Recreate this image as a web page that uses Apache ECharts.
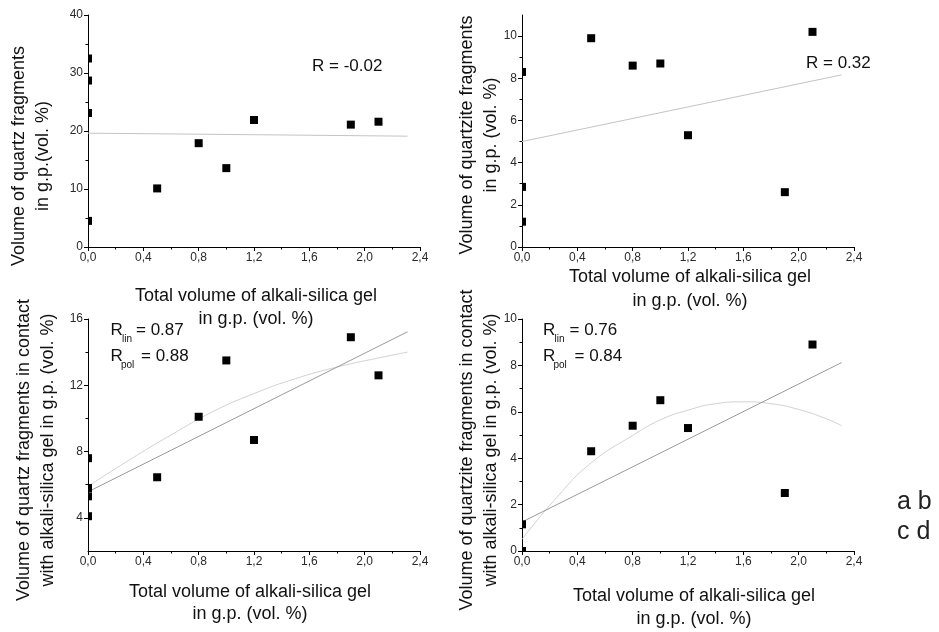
<!DOCTYPE html>
<html>
<head>
<meta charset="utf-8">
<script src="https://cdn.jsdelivr.net/npm/echarts@6/dist/echarts.min.js"></script>
<style>
  html, body { margin: 0; padding: 0; background: #fff; }
  #chart { width: 939px; height: 632px; }
</style>
</head>
<body>
<div id="chart"></div>
<script>
// Fragment content in the g.p. versus total alkali-silica gel volume, panels a-d.

// ---- data ----
// (a) quartz fragments
const gelA = [0, 0, 0, 0, 0.5, 0.8, 1.0, 1.2, 1.9, 2.1];
const quartzA = [32.5, 28.7, 23.1, 4.5, 10.1, 17.9, 13.6, 21.9, 21.1, 21.6];
const fitAx = [0, 2.31];
const fitAy = [19.63, 19.11];

// (b) quartzite fragments
const gelB = [0, 0, 0, 0.5, 0.8, 1.0, 1.2, 1.9, 2.1];
const quartziteB = [8.3, 2.85, 1.2, 9.9, 8.6, 8.7, 5.3, 2.6, 10.2];
const fitBx = [0, 2.31];
const fitBy = [5.0, 8.16];

// (c) quartz fragments in contact with gel
const gelC = [0, 0, 0, 0, 0.5, 0.8, 1.0, 1.2, 1.9, 2.1];
const quartzContactC = [7.6, 5.8, 5.3, 4.1, 6.45, 10.1, 13.5, 8.7, 14.9, 12.6];
const linCx = [0, 2.31];
const linCy = [5.57, 15.23];
const polCx = [0, 0.3, 0.6, 0.9, 1.2, 1.5, 1.8, 2.1, 2.31];
const polCy = [5.9, 7.5, 9.0, 10.4, 11.5, 12.4, 13.1, 13.65, 14.0];

// (d) quartzite fragments in contact with gel
const gelD = [0, 0, 0.5, 0.8, 1.0, 1.2, 1.9, 2.1];
const quartziteContactD = [1.15, 0, 4.3, 5.4, 6.5, 5.3, 2.5, 8.9];
const linDx = [0, 2.31];
const linDy = [1.25, 8.12];
const polDx = [0, 0.25, 0.5, 0.8, 1.0, 1.2, 1.4, 1.6, 1.8, 2.0, 2.2, 2.31];
const polDy = [0.5, 2.3, 3.8, 4.98, 5.65, 6.07, 6.35, 6.43, 6.35, 6.1, 5.7, 5.4];

// ---- axis ticks ----
const xTicks = [0, 0.4, 0.8, 1.2, 1.6, 2.0, 2.4];
const yTicksA = [0, 10, 20, 30, 40];
const yMinorA = [5, 15, 25, 35];
const yTicksB = [0, 2, 4, 6, 8, 10];
const yMinorB = [1, 3, 5, 7, 9];
const yTicksC = [4, 8, 12, 16];
const yMinorC = [6, 10, 14];
const yTicksD = [0, 2, 4, 6, 8, 10];
const yMinorD = [1, 3, 5, 7, 9];

// ---- styling ----
const FONT = '"Liberation Sans", Arial, Helvetica, sans-serif';
const INK = '#111';
const MARK = 8;
const FIT_LIGHT = '#c4c4c4';
const FIT_DARK = '#9a9a9a';

const zip = (xs, ys) => xs.map((x, i) => [x, ys[i]]);

const panels = [
  { left: 88,  top: 15,  yMin: 0, yMax: 40, yTicks: yTicksA, yMinor: yMinorA },
  { left: 522, top: 15,  yMin: 0, yMax: 11, yTicks: yTicksB, yMinor: yMinorB },
  { left: 88,  top: 319, yMin: 2, yMax: 16, yTicks: yTicksC, yMinor: yMinorC },
  { left: 522, top: 319, yMin: 0, yMax: 10, yTicks: yTicksD, yMinor: yMinorD }
];

const grid = panels.map(p => ({ left: p.left, top: p.top, width: 332, height: 232, containLabel: false }));

const xAxis = panels.map((p, i) => ({
  type: 'value', gridIndex: i, min: xTicks[0], max: xTicks[xTicks.length - 1], interval: 0.4,
  axisLine: { show: true, onZero: false, lineStyle: { color: '#000', width: 1 } },
  axisTick: { show: true, inside: false, length: 4, lineStyle: { color: '#000' } },
  minorTick: { show: true, splitNumber: 2, length: 2.5, lineStyle: { color: '#000' } },
  splitLine: { show: false }, minorSplitLine: { show: false },
  axisLabel: {
    margin: 5, color: '#2a2a2a', fontSize: 12, fontFamily: FONT,
    formatter: v => v.toFixed(1).replace('.', ',')
  }
}));

const yAxis = [];
panels.forEach((p, i) => {
  // main axis with labelled ticks
  yAxis.push({
    type: 'value', gridIndex: i, position: 'left', min: p.yMin, max: p.yMax,
    axisLine: { show: true, onZero: false, lineStyle: { color: '#000', width: 1 } },
    axisTick: { show: true, inside: false, length: 4, customValues: p.yTicks, lineStyle: { color: '#000' } },
    axisLabel: { margin: 5, color: '#2a2a2a', fontSize: 12, fontFamily: FONT, customValues: p.yTicks },
    splitLine: { show: false }
  });
});
panels.forEach((p, i) => {
  // overlaid axis carrying only the short minor ticks
  yAxis.push({
    type: 'value', gridIndex: i, position: 'left', offset: 0, min: p.yMin, max: p.yMax,
    axisLine: { show: false, onZero: false },
    axisTick: { show: true, inside: false, length: 2.5, customValues: p.yMinor, lineStyle: { color: '#000' } },
    axisLabel: { show: false },
    splitLine: { show: false }
  });
});

// square markers, clipped to the plot frame
function squareMark(params, api) {
  const c = api.coord([api.value(0), api.value(1)]);
  const cs = params.coordSys;
  const r = echarts.graphic.clipRectByRect(
    { x: c[0] - MARK / 2, y: c[1] - MARK / 2, width: MARK, height: MARK },
    { x: cs.x, y: cs.y, width: cs.width, height: cs.height }
  );
  return r ? { type: 'rect', shape: r, style: { fill: '#000' } } : null;
}

function scatter(i, xs, ys) {
  return {
    type: 'custom', xAxisIndex: i, yAxisIndex: i, z: 5,
    renderItem: squareMark, data: zip(xs, ys), encode: { x: 0, y: 1 }, silent: true
  };
}
function fit(i, xs, ys, color, smooth) {
  return {
    type: 'line', xAxisIndex: i, yAxisIndex: i, z: 2, data: zip(xs, ys),
    showSymbol: false, symbol: 'none', smooth: smooth || false, silent: true,
    lineStyle: { color: color, width: 1 }
  };
}

const series = [
  fit(0, fitAx, fitAy, FIT_LIGHT), scatter(0, gelA, quartzA),
  fit(1, fitBx, fitBy, FIT_LIGHT), scatter(1, gelB, quartziteB),
  fit(2, polCx, polCy, '#d2d2d2', true), fit(2, linCx, linCy, FIT_DARK), scatter(2, gelC, quartzContactC),
  fit(3, polDx, polDy, '#d2d2d2', true), fit(3, linDx, linDy, FIT_DARK), scatter(3, gelD, quartziteContactD)
];

// ---- texts ----
function label(text, x, y, size, opts) {
  opts = opts || {};
  const align = opts.align || 'left';
  return {
    type: 'text', x: x, y: y, rotation: opts.rotate ? Math.PI / 2 : 0, z: 10, silent: true,
    style: {
      text: text, fill: opts.color || INK, font: size + 'px ' + FONT,
      fontSize: size, fontFamily: FONT, lineHeight: opts.lineHeight || size,
      align: align, verticalAlign: 'middle', textAlign: align, textVerticalAlign: 'middle'
    }
  };
}
const xTitle = 'Total volume of alkali-silica gel\nin g.p. (vol. %)';

const graphic = [
  // axis titles
  label('Volume of quartz fragments\nin g.p.(vol. %)', 31, 156, 18, { rotate: true, align: 'center', lineHeight: 24 }),
  label(xTitle, 256, 308, 18, { align: 'center', lineHeight: 23 }),
  label('Volume of quartzite fragments\nin g.p. (vol. %)', 479, 135, 18, { rotate: true, align: 'center', lineHeight: 24 }),
  label(xTitle, 690, 289, 18, { align: 'center', lineHeight: 24 }),
  label('Volume of quartz fragments in contact\nwith alkali-silica gel in g.p. (vol. %)', 36, 450, 18, { rotate: true, align: 'center', lineHeight: 24 }),
  label(xTitle, 250, 603, 18, { align: 'center', lineHeight: 22 }),
  label('Volume of quartzite fragments in contact\nwith alkali-silica gel in g.p. (vol. %)', 479, 450, 18, { rotate: true, align: 'center', lineHeight: 24 }),
  label(xTitle, 694, 608, 18, { align: 'center', lineHeight: 23 }),

  // correlation coefficients
  label('R = -0.02', 312, 66, 17),
  label('R = 0.32', 806, 63, 17),

  label('R', 110.5, 330, 17), label('lin', 122, 339, 10), label('= 0.87', 136, 330, 17),
  label('R', 110.5, 356, 17), label('pol', 121, 365, 10), label('= 0.88', 141, 356, 17),

  label('R', 543, 330, 17), label('lin', 554.5, 339, 10), label('= 0.76', 569.5, 330, 17),
  label('R', 543, 356.5, 17), label('pol', 553.5, 365.5, 10), label('= 0.84', 574.5, 356.5, 17),

  // panel key
  label('a b', 897, 502, 25, { color: '#222' }),
  label('c d', 897, 532, 25, { color: '#222' })
];

const chart = echarts.init(document.getElementById('chart'), null, { renderer: 'canvas' });
chart.setOption({
  animation: false,
  backgroundColor: '#fff',
  textStyle: { fontFamily: FONT },
  grid: grid,
  xAxis: xAxis,
  yAxis: yAxis,
  series: series,
  graphic: graphic
});
</script>
</body>
</html>
